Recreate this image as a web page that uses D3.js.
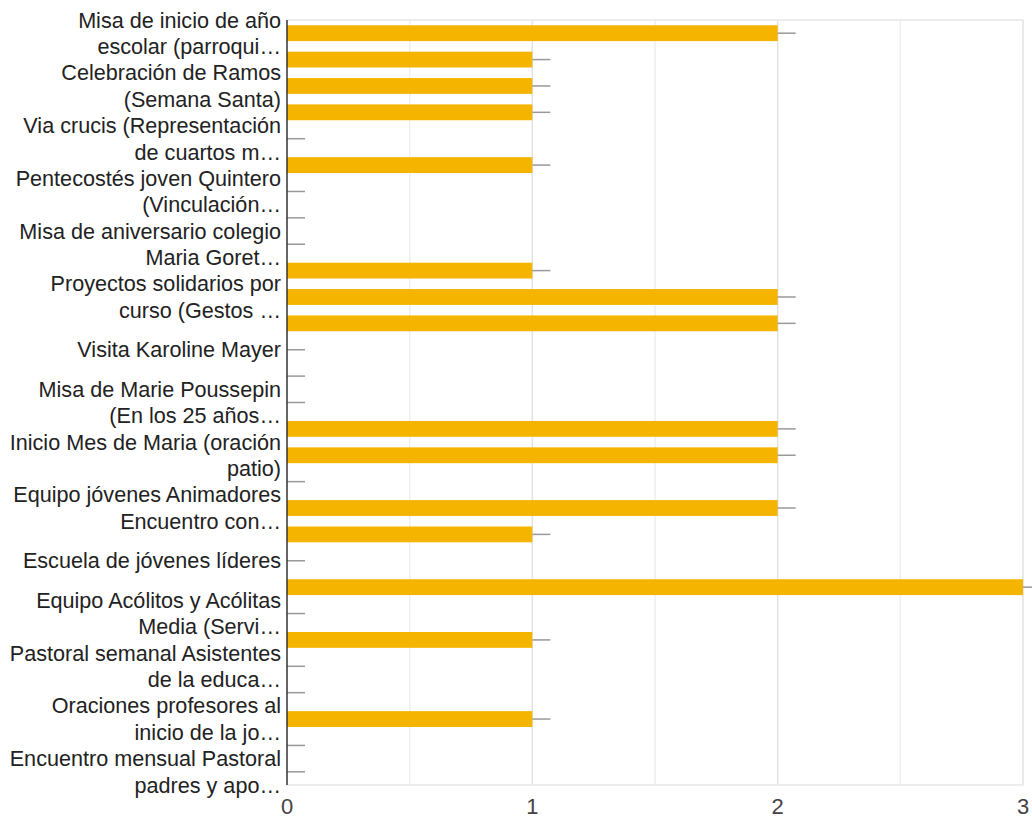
<!DOCTYPE html>
<html>
<head>
<meta charset="utf-8">
<script src="https://cdn.jsdelivr.net/npm/d3@7"></script>
<style>
  body { margin: 0; background: #fff; }
  text { font-family: Arial, "Liberation Sans", sans-serif; }
</style>
</head>
<body>
<svg id="chart" width="1032" height="821"></svg>
<script>
// counts per activity (29 rows, only every other row gets a label)
const values = [2, 1, 1, 1, 0, 1, 0, 0, 0, 1, 2, 2, 0, 0, 0, 2, 2, 0, 2, 1, 0, 3, 0, 1, 0, 0, 1, 0, 0];

// labels shown on the axis (row index -> wrapped lines)
const labelRows = [0, 2, 4, 6, 8, 10, 12, 14, 16, 18, 20, 22, 24, 26, 28];
const labelLines = [
  ["Misa de inicio de año", "escolar (parroqui…"],
  ["Celebración de Ramos", "(Semana Santa)"],
  ["Via crucis (Representación", "de cuartos m…"],
  ["Pentecostés joven Quintero", "(Vinculación…"],
  ["Misa de aniversario colegio", "Maria Goret…"],
  ["Proyectos solidarios por", "curso (Gestos …"],
  ["Visita Karoline Mayer"],
  ["Misa de Marie Poussepin", "(En los 25 años…"],
  ["Inicio Mes de Maria (oración", "patio)"],
  ["Equipo jóvenes Animadores", "Encuentro con…"],
  ["Escuela de jóvenes líderes"],
  ["Equipo Acólitos y Acólitas", "Media (Servi…"],
  ["Pastoral semanal Asistentes", "de la educa…"],
  ["Oraciones profesores al", "inicio de la jo…"],
  ["Encuentro mensual Pastoral", "padres y apo…"]
];

const xTicks = [0, 1, 2, 3];
const gridValues = [0.5, 1, 1.5, 2, 2.5, 3];

const margin = { top: 20, right: 9, bottom: 36, left: 287 };
const svg = d3.select("#chart");
const width = 1032 - margin.left - margin.right;
const height = 821 - margin.top - margin.bottom;
const g = svg.append("g").attr("transform", `translate(${margin.left},${margin.top})`);

const x = d3.scaleLinear().domain([0, 3]).range([0, width]);
const y = d3.scaleBand().domain(d3.range(values.length)).range([0, height]).paddingInner(0.4).paddingOuter(0.2);

// gridlines
g.selectAll(".grid")
  .data(gridValues)
  .join("line")
  .attr("x1", d => x(d)).attr("x2", d => x(d))
  .attr("y1", 0).attr("y2", height)
  .attr("stroke", d => Number.isInteger(d) ? "#e2e2e2" : "#eeeeee")
  .attr("stroke-width", 1.5);

// top and bottom border
g.selectAll(".hborder")
  .data([0, height])
  .join("line")
  .attr("x1", 0).attr("x2", width)
  .attr("y1", d => d).attr("y2", d => d)
  .attr("stroke", "#e6e6e6")
  .attr("stroke-width", 1.5);

// bars
g.selectAll(".bar")
  .data(values)
  .join("rect")
  .attr("x", 0)
  .attr("y", (d, i) => y(i))
  .attr("width", d => x(d))
  .attr("height", y.bandwidth())
  .attr("fill", "#f4b400");

// small marks at the end of each bar
g.selectAll(".mark")
  .data(values)
  .join("line")
  .attr("x1", d => x(d)).attr("x2", d => x(d) + 18)
  .attr("y1", (d, i) => y(i) + y.bandwidth() / 2)
  .attr("y2", (d, i) => y(i) + y.bandwidth() / 2)
  .attr("stroke", "#999")
  .attr("stroke-width", 1.5);

// category axis line
g.append("line")
  .attr("x1", 0).attr("x2", 0)
  .attr("y1", 0).attr("y2", height)
  .attr("stroke", "#333")
  .attr("stroke-width", 1.5);

// category labels
const lineGap = 26.5;
const labels = g.selectAll(".lab")
  .data(labelLines)
  .join("text")
  .attr("text-anchor", "end")
  .attr("font-size", 21.6)
  .attr("fill", "#222")
  .attr("transform", (d, i) => `translate(-6,${y(labelRows[i]) + y.bandwidth() / 2})`);

labels.selectAll("tspan")
  .data(d => d.map((t, j) => ({ t, j, n: d.length })))
  .join("tspan")
  .attr("x", 0)
  .attr("y", d => (d.j - (d.n - 1) / 2) * lineGap)
  .attr("dy", "0.35em")
  .text(d => d.t);

// value axis
g.selectAll(".xtick")
  .data(xTicks)
  .join("text")
  .attr("x", d => x(d))
  .attr("y", height + 29)
  .attr("text-anchor", "middle")
  .attr("font-size", 22)
  .attr("fill", "#444")
  .text(d => d);
</script>
</body>
</html>
